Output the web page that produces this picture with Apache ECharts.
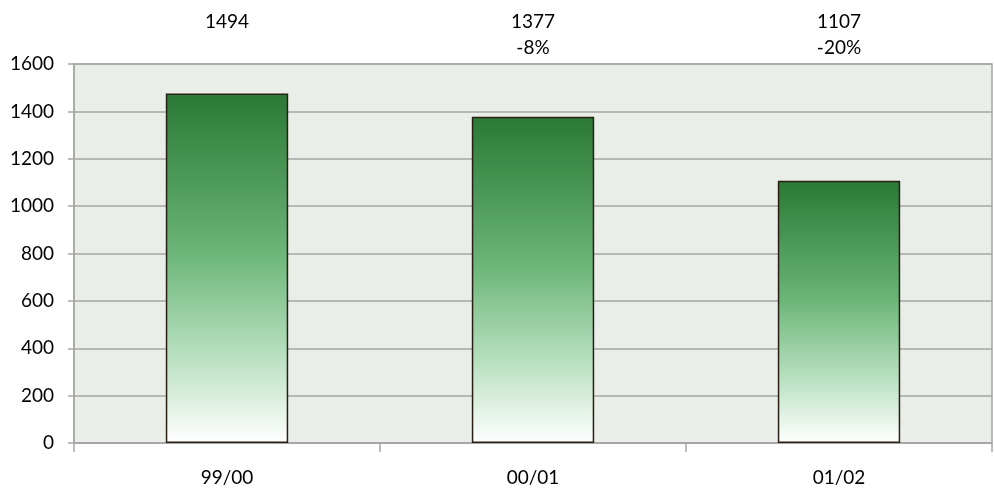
<!DOCTYPE html>
<html><head><meta charset="utf-8">
<script src="https://cdn.jsdelivr.net/npm/echarts@6/dist/echarts.min.js"></script>
<style>html,body{margin:0;padding:0;background:#fff}#c{width:994px;height:490px}</style>
</head><body><div id="c"></div>
<script>
const categories = ['99/00', '00/01', '01/02'];
const values = [1475, 1377, 1107];
const topLabels = ['1494\n ', '1377\n-8%', '1107\n-20%'];
const yTicks = [0, 200, 400, 600, 800, 1000, 1200, 1400, 1600];

const chart = echarts.init(document.getElementById('c'));
const font = 'Lato, "Open Sans", sans-serif';
chart.setOption({
  animation: false,
  grid: { left: 74, right: 2, top: 64, bottom: 47, show: true, backgroundColor: '#e9eee8', borderColor: '#a6a6a6', borderWidth: 1.5 },
  xAxis: [{
    type: 'category', data: categories, position: 'bottom',
    axisLine: { lineStyle: { color: '#a6a6a6', width: 1.5 } },
    axisTick: { show: true, length: 9, lineStyle: { color: '#a6a6a6', width: 1.5 } },
    axisLabel: { color: '#000', fontSize: 19, fontFamily: font, margin: 25 }
  }, {
    type: 'category', data: topLabels, position: 'top',
    axisLine: { show: false }, axisTick: { show: false },
    axisLabel: { color: '#000', fontSize: 19, fontFamily: font, margin: 3, lineHeight: 26 }
  }],
  yAxis: {
    type: 'value', min: yTicks[0], max: yTicks[yTicks.length - 1], interval: 200,
    axisLine: { show: true, lineStyle: { color: '#a6a6a6', width: 1.5 } },
    axisTick: { show: true, length: 6, lineStyle: { color: '#a6a6a6', width: 1.5 } },
    splitLine: { lineStyle: { color: '#a6a6a6', width: 1.5 } },
    axisLabel: { color: '#000', fontSize: 19, fontFamily: font, margin: 20, formatter: v => String(v) }
  },
  series: [{
    type: 'bar', data: values, barWidth: '40%', xAxisIndex: 0,
    itemStyle: {
      borderColor: '#2a1f14', borderWidth: 1.5,
      color: new echarts.graphic.LinearGradient(0, 0, 0, 1, [
        { offset: 0, color: '#2b7836' },
        { offset: 0.45, color: '#6ab577' },
        { offset: 0.75, color: '#b8e0bf' },
        { offset: 1, color: '#ffffff' }
      ])
    }
  }]
});
</script></body></html>
